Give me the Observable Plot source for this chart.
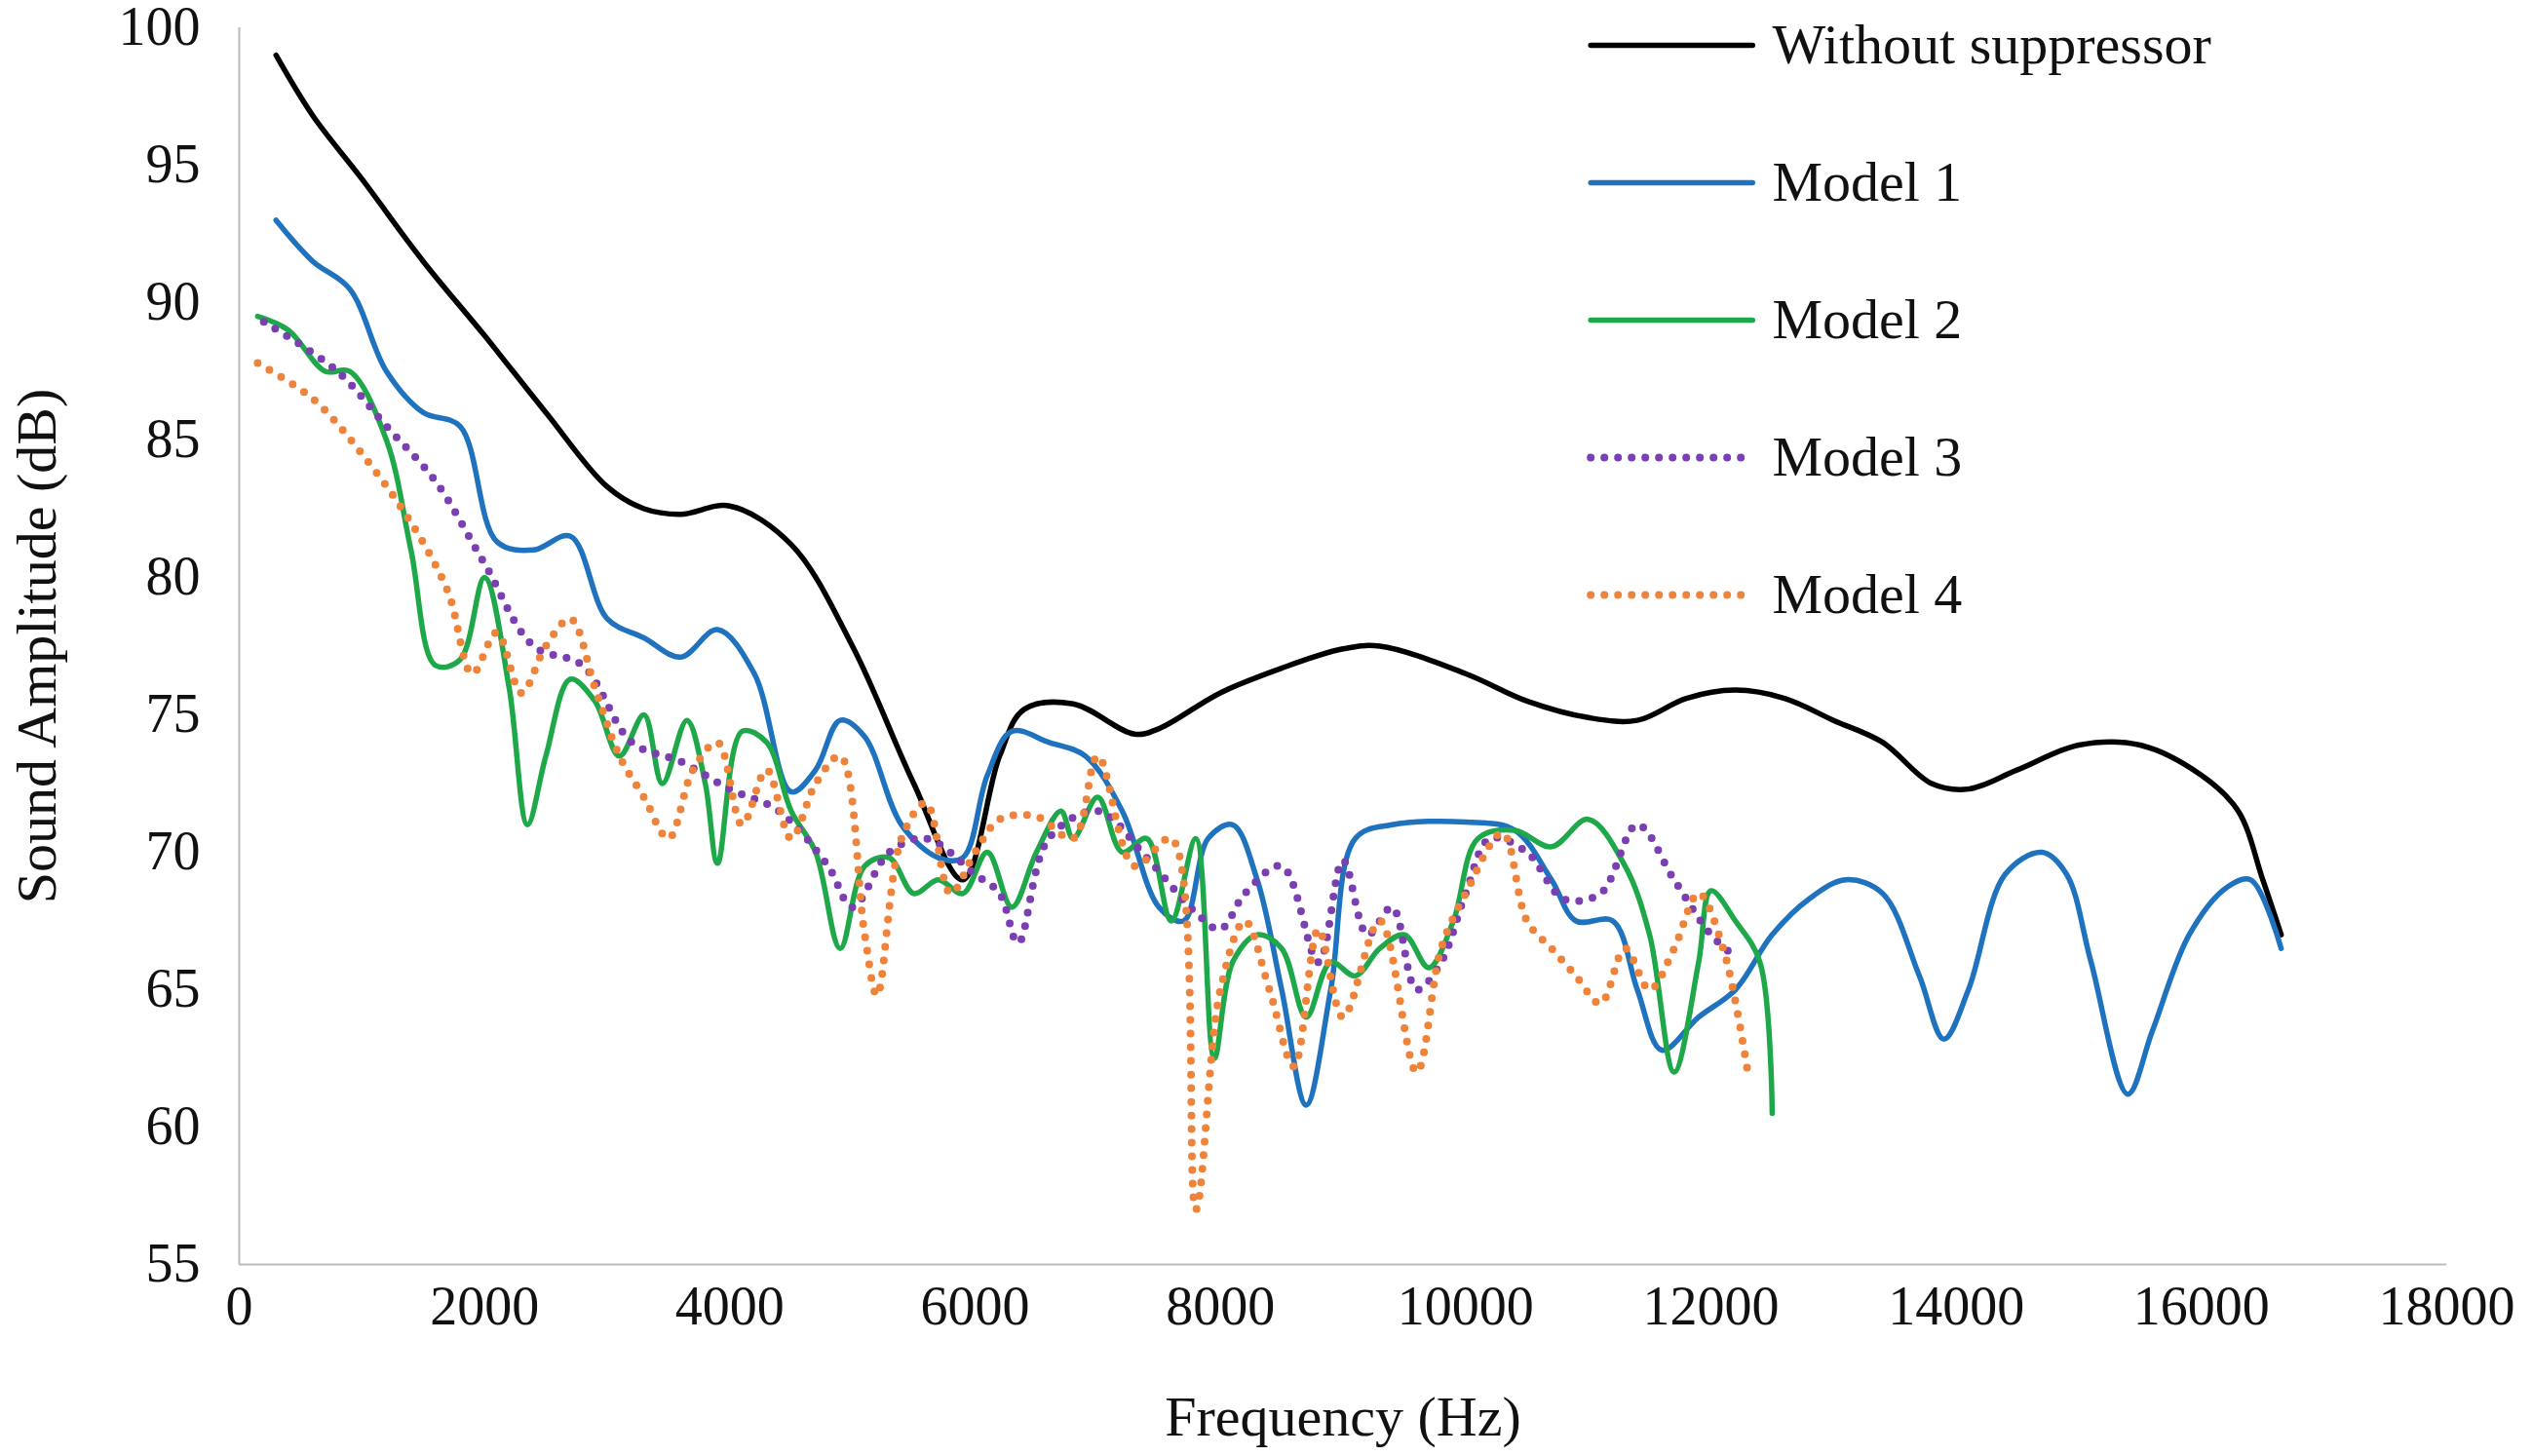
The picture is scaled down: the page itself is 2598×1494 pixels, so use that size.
<!DOCTYPE html>
<html><head><meta charset="utf-8">
<script src="https://cdn.jsdelivr.net/npm/d3@7"></script>
<script src="https://cdn.jsdelivr.net/npm/@observablehq/plot@0.6"></script>
<style>body{margin:0;background:#fff}</style>
</head><body><div id="c"></div>
<script>
const seriesNames=["Without suppressor","Model 1","Model 2","Model 3","Model 4"];
const colors=["#000000","#1f72bd","#1fa84a","#7a3fb0","#f0833a"];
const without=[[300,99],[600,96.8],[1000,94.5],[1500,91.5],[2000,88.8],[2500,86],[3000,83.3],[3300,82.5],[3600,82.3],[4000,82.6],[4500,81.2],[5000,77.5],[5500,72.5],[5900,69],[6200,73.5],[6400,75.2],[6800,75.4],[7300,74.3],[7500,74.5],[8000,75.8],[8500,76.7],[9000,77.4],[9300,77.5],[10000,76.5],[10500,75.5],[11000,74.9],[11400,74.8],[11800,75.6],[12200,75.9],[12600,75.6],[13000,74.8],[13400,74],[13800,72.5],[14100,72.3],[14500,73],[15000,73.9],[15500,73.9],[16000,72.8],[16300,71.5],[16500,69],[16650,67]];
const model1=[[300,93],[600,91.5],[900,90.5],[1200,87.5],[1500,86],[1800,85.5],[2100,81.3],[2400,81],[2700,81.5],[3000,78.5],[3300,77.8],[3600,77.1],[3900,78.1],[4200,76.5],[4500,72.2],[4700,73],[4900,74.8],[5100,74.2],[5400,71],[5700,69.8],[5900,69.8],[6100,72.8],[6300,74.4],[6600,74],[6900,73.5],[7200,71.5],[7500,68],[7700,67.5],[7900,70.5],[8100,71],[8300,69],[8500,65],[8700,60.8],[8900,65],[9100,70.5],[9400,71],[10000,71.1],[10400,70.8],[10700,69],[10900,67.5],[11200,67.5],[11400,65],[11600,62.8],[11900,64],[12200,65],[12500,67],[12800,68.3],[13100,69],[13400,68.5],[13700,65.5],[13900,63.2],[14100,65],[14400,69.2],[14700,70],[14900,69.2],[15100,66],[15400,61.2],[15600,63.5],[15900,67],[16200,68.7],[16400,69],[16650,66.5]];
const model2=[[150,89.5],[400,89],[700,87.5],[900,87.5],[1200,85],[1400,81],[1600,76.8],[1800,77],[2000,80],[2200,76],[2350,71],[2500,73.5],[2700,76.3],[2900,75.5],[3100,73.5],[3300,75],[3450,72.5],[3650,74.8],[3800,72.5],[3900,69.6],[4100,74.4],[4300,74],[4500,71.5],[4700,70],[4900,66.5],[5100,69.5],[5300,69.8],[5500,68.5],[5700,69],[5900,68.5],[6100,70],[6300,68],[6500,70],[6700,71.5],[6800,70.5],[7000,72],[7200,70],[7400,70.5],[7600,67.5],[7800,70.5],[7950,62.5],[8100,66],[8300,67],[8500,66.5],[8700,64],[8900,66],[9100,65.5],[9300,66.5],[9500,67],[9700,65.8],[9900,67.5],[10100,70.5],[10400,70.8],[10700,70.2],[11000,71.2],[11300,69.5],[11500,67],[11700,62],[11900,66],[12000,68.6],[12200,67.5],[12400,66],[12500,60.5]];
const model3=[[200,89.3],[800,87.5],[1200,85.5],[1600,83.5],[2000,80.5],[2400,77.5],[2800,76.8],[3200,74],[3600,73.3],[4000,72.3],[4400,71.5],[4800,69.5],[5000,68],[5300,70],[5600,70.5],[6000,69.2],[6200,68.5],[6350,66.7],[6600,70.5],[7000,71.5],[7400,69.8],[7800,67.8],[8000,67.2],[8200,68.5],[8500,69.5],[8800,66],[9000,69.7],[9200,67],[9400,68],[9600,65],[9800,66],[10000,68.5],[10200,70.5],[10500,70],[10800,68.3],[11100,68.5],[11400,71],[11700,69],[12000,67],[12200,66.2]];
const model4=[[150,87.8],[600,86.5],[1000,84.5],[1400,82],[1700,79.5],[1900,76.5],[2100,78],[2300,75.8],[2500,77.5],[2700,78.5],[2900,76],[3100,73.5],[3300,72],[3500,70.5],[3700,73],[3900,74],[4100,71],[4300,73],[4500,70.5],[4700,72.5],[4900,73.5],[5100,67],[5200,64.8],[5400,70.5],[5600,71.8],[5800,68.5],[6000,70],[6200,71.2],[6500,71.3],[6800,70.5],[7000,73.5],[7300,69.5],[7600,70.5],[7800,57],[8000,65],[8200,67.5],[8400,65],[8600,62.2],[8800,67.2],[9000,64],[9300,67.5],[9600,62],[9800,66.5],[10000,68.5],[10300,70.7],[10500,67.5],[10700,66.5],[10900,65.5],[11100,64.5],[11300,66.5],[11500,65],[11700,66.5],[11900,68.5],[12100,66.5],[12300,62]];
const xTicks=[0,2000,4000,6000,8000,10000,12000,14000,16000,18000];
const yTicks=[55,60,65,70,75,80,85,90,95,100];
const legendY=[99.36,94.36,89.36,84.36,79.36];
const legendX=[11020,12340];
const legendTextX=12500;

const all=[without,model1,model2,model3,model4];
const rows=[];
all.forEach((s,i)=>s.forEach(([f,v])=>rows.push({f,v,s:seriesNames[i]})));
const leg=[];
seriesNames.forEach((n,i)=>legendX.forEach(x=>leg.push({f:x,v:legendY[i],s:n})));
const legT=seriesNames.map((n,i)=>({f:legendTextX,v:legendY[i],s:n}));
const marks=[];
const font="Liberation Serif";
seriesNames.forEach((n,i)=>{
  const dotted=i>=3;
  const opt={x:"f",y:"v",stroke:colors[i],strokeWidth:dotted?8:5.5,curve:"catmull-rom"};
  if(dotted){opt.strokeDasharray="0 14";opt.strokeLinecap="round";}
  marks.push(Plot.line(rows.filter(d=>d.s===n),opt));
  const lo={...opt,curve:"linear"};
  marks.push(Plot.line(leg.filter(d=>d.s===n),lo));
});
marks.push(Plot.text(legT,{x:"f",y:"v",text:"s",textAnchor:"start",fontSize:58,fill:"#111",fontFamily:font}));
marks.push(Plot.ruleX([0],{stroke:"#bbb",strokeWidth:2}));
marks.push(Plot.ruleY([55],{stroke:"#bbb",strokeWidth:2}));
const p=Plot.plot({
  width:2598,height:1494,marginLeft:245,marginRight:88,marginTop:28,marginBottom:197,
  style:{fontFamily:font,fontSize:"56px",color:"#111",background:"#fff"},
  x:{domain:[0,18000],ticks:xTicks,tickSize:0,tickPadding:22,label:"Frequency (Hz)",labelArrow:"none",labelAnchor:"center",labelOffset:175,tickFormat:d=>String(d)},
  y:{domain:[55,100],ticks:yTicks,tickSize:0,tickPadding:40,label:"Sound Amplitude (dB)",labelAnchor:"center",labelOffset:230,labelArrow:"none"},
  marks
});
p.querySelectorAll("[aria-label='x-axis label'] text, [aria-label='y-axis label'] text").forEach(t=>t.style.fontSize="58px");
document.getElementById("c").appendChild(p);
</script></body></html>
